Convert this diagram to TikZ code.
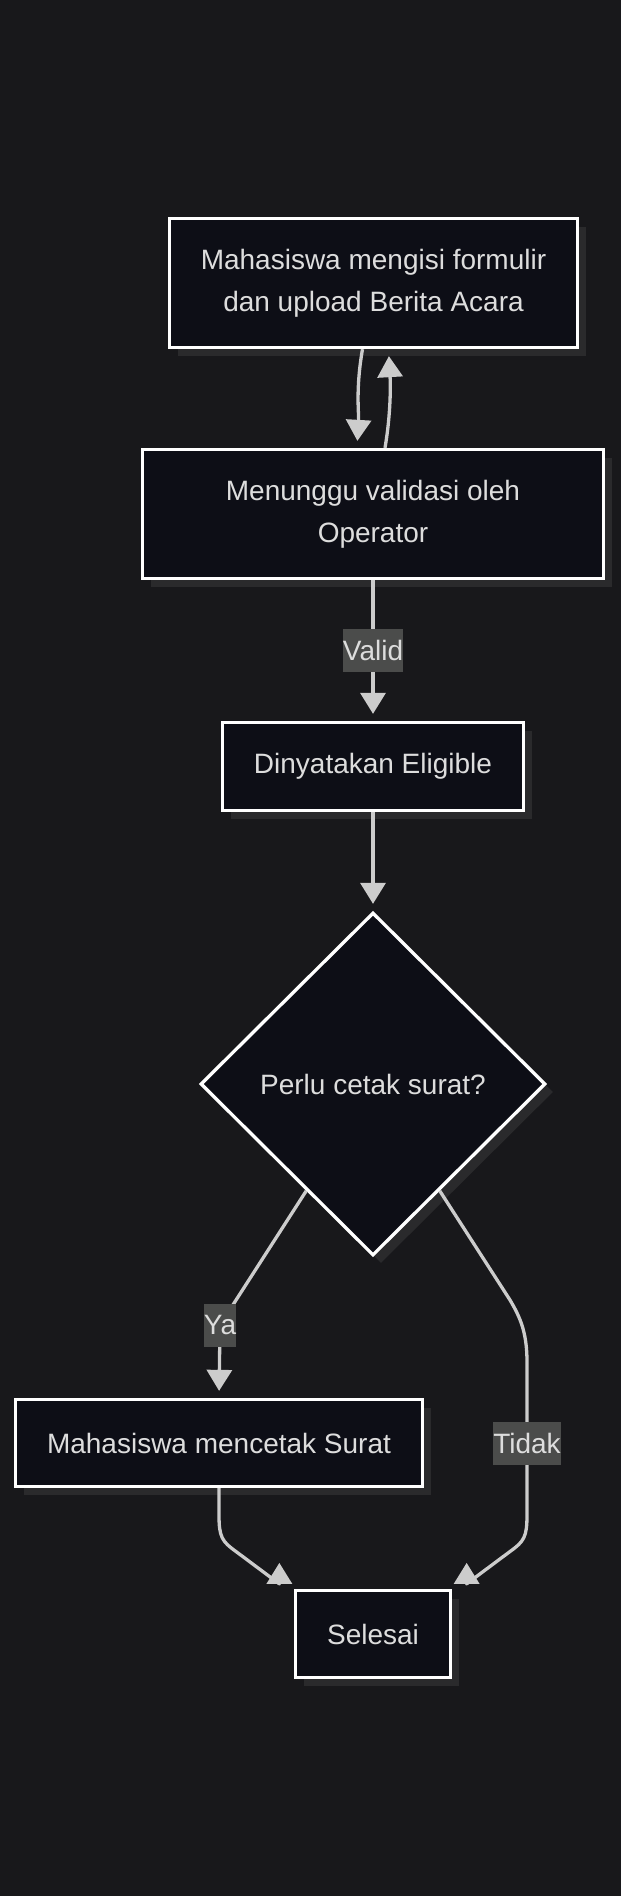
\documentclass[tikz,border=0pt]{standalone}
\usepackage{fontspec}
\setmainfont{Liberation Sans}
\usepackage{tikz}
\usetikzlibrary{positioning,shapes.geometric,shadows}
\usetikzlibrary{arrows.meta}
\definecolor{canvasbg}{HTML}{18181B}
\definecolor{nodefill}{HTML}{0D0E16}
\definecolor{shadowgrey}{HTML}{2A2A2C}
\definecolor{edgegrey}{HTML}{CCCCCC}
\definecolor{labelgrey}{HTML}{4B4C4B}
\definecolor{textgrey}{HTML}{DDDDDD}
\tikzstyle{process}   = [rectangle, draw=white, line width=3.3pt, fill=nodefill, text=textgrey, align=center, inner sep=0pt, drop shadow={shadow xshift=8pt, shadow yshift=-8pt, fill=shadowgrey, opacity=1}]
\tikzstyle{decision}  = [diamond, aspect=1, draw=white, line width=3.3pt, fill=nodefill, text=textgrey, inner sep=0pt, minimum width=345pt, minimum height=343pt, drop shadow={shadow xshift=8pt, shadow yshift=-8pt, fill=shadowgrey, opacity=1}]
\tikzstyle{connector} = [draw=edgegrey, line width=3.3pt, line join=round, -{Triangle[width=25pt,length=21pt]}, shorten >=7pt]
\tikzstyle{edgelabel} = [sharp corners, fill=labelgrey, text=textgrey, inner sep=0pt, minimum height=43pt]

\begin{document}
\begin{tikzpicture}[x=1pt, y=1pt, font=\fontsize{28}{42}\selectfont]
	\fill[canvasbg] (0,0) rectangle (621,-1896);
	\useasboundingbox (0,0) rectangle (621,-1896);

	\node[process, minimum width=408pt, minimum height=129pt] (formulir) at (373.5,-283) {Mahasiswa mengisi formulir\\dan upload Berita Acara};
	\node[process, minimum width=461pt, minimum height=129pt] (validasi) at (373,-514) {Menunggu validasi oleh\\Operator};
	\node[process, minimum width=301pt, minimum height=88pt] (eligible) at (373,-766.5) {Dinyatakan Eligible};
	\node[decision] (cetak) at (373,-1084) {Perlu cetak surat?};
	\node[process, minimum width=407pt, minimum height=87pt] (mencetak) at (219,-1443) {Mahasiswa mencetak Surat};
	\node[process, minimum width=155pt, minimum height=87pt] (selesai) at (373,-1634) {Selesai};

	\coordinate (yabend) at (220,-1325);
	\coordinate (tidakA) at (510,-1300);
	\coordinate (tidakB) at (527,-1362);
	\coordinate (tidakC) at (527,-1515);
	\coordinate (tidakD) at (510,-1551.5);
	\coordinate (cetakC) at (219,-1515);
	\coordinate (cetakD) at (236,-1551.5);
	\coordinate (selesaiL) at ([xshift=-14.5pt,yshift=5pt]selesai.north west);
	\coordinate (selesaiR) at ([xshift=14.5pt,yshift=5pt]selesai.north east);

	\draw[connector] ([xshift=-11pt]formulir.south) .. controls +(-7pt,-40pt) and +(2pt,35pt) .. ([xshift=-16pt]validasi.north);
	\draw[connector] ([xshift=12pt]validasi.north) .. controls +(6pt,35pt) and +(2pt,-35pt) .. ([xshift=15pt]formulir.south);
	\draw[connector] (validasi) -- node[edgelabel] {Valid} (eligible);
	\draw[connector] (eligible) -- (cetak);
	\draw[connector, rounded corners=14pt] (cetak.238) -- (yabend) -- (mencetak.north);
	\node[edgelabel] (yalabel) at (yabend) {Ya};
	\draw[connector, shorten >=0pt] (cetak.302) -- (tidakA) .. controls +(10pt,-17pt) and +(0pt,30pt) .. (tidakB) -- node[edgelabel, pos=0.53] {Tidak} (tidakC) .. controls +(0pt,-22pt) and +(14pt,10pt) .. (tidakD) -- (selesaiR) -- ++(0,21pt);
	\draw[connector, shorten >=0pt] (mencetak.south) -- (cetakC) .. controls +(0pt,-22pt) and +(-14pt,10pt) .. (cetakD) -- (selesaiL) -- ++(0,21pt);
\end{tikzpicture}
\end{document}
